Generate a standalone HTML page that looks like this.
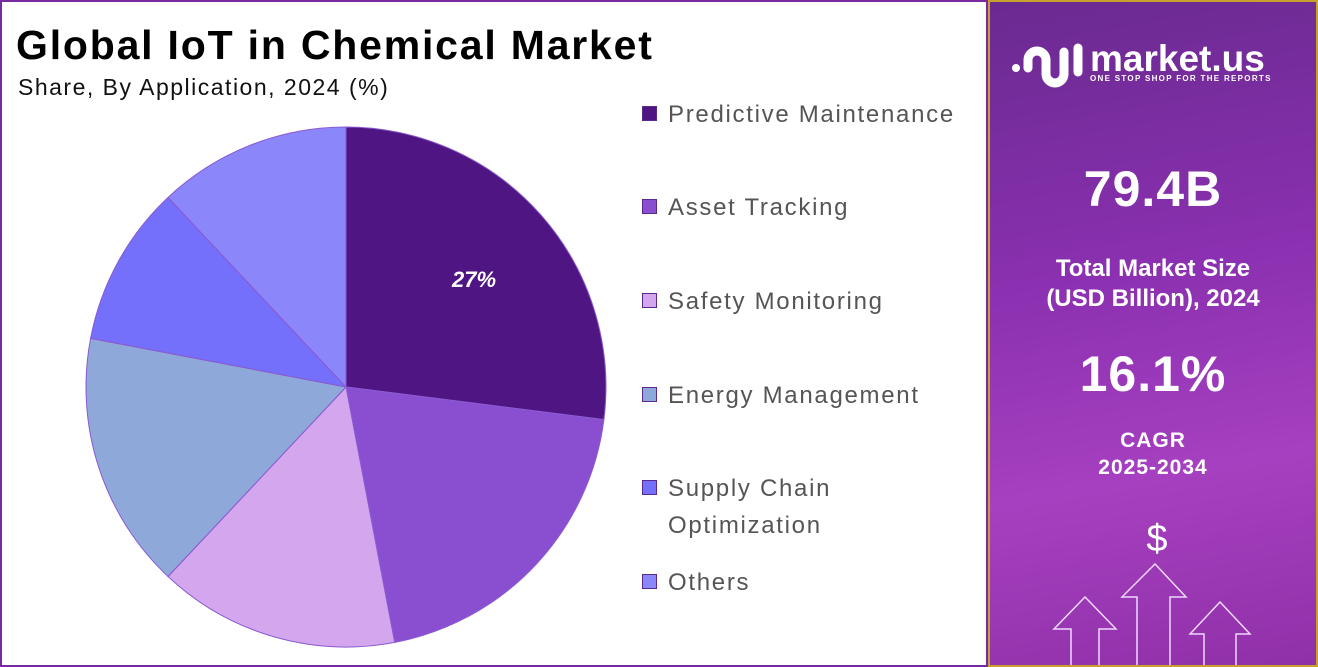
<!DOCTYPE html>
<html><head><meta charset="utf-8"><style>
body{margin:0;width:1318px;height:667px;overflow:hidden;font-family:"Liberation Sans",sans-serif;background:#fff;position:relative}
#left{position:absolute;left:0;top:0;width:984px;height:663px;border:2px solid #7a2aa0;background:#fff}
h1{position:absolute;left:14px;top:20px;margin:0;font-size:41px;font-weight:bold;letter-spacing:1.8px;color:#000}
.sub{position:absolute;left:16px;top:72px;font-size:23px;color:#111;letter-spacing:1.5px}
.leg{position:absolute;left:640px;font-size:24px;color:#555;line-height:37px;letter-spacing:1.7px}
.leg i{position:absolute;left:0;top:10px;width:15px;height:15px;box-sizing:border-box;border:1px solid #5a2a8a}
.leg span{margin-left:26px;display:block}
#right{position:absolute;left:988px;top:0;width:326px;height:663px;border:2px solid #c8a030;background:linear-gradient(170deg,#6a2a90 0%,#8a30b0 40%,#a640c0 70%,#9030a8 100%);color:#fff;text-align:center;overflow:hidden}
.b{font-weight:bold;position:absolute;left:0;width:100%}
</style></head><body>
<div id="left">
<h1>Global IoT in Chemical Market</h1>
<div class="sub">Share, By Application, 2024 (%)</div>
<svg width="984" height="663" style="position:absolute;left:-2px;top:-2px">
<g stroke="#8a5ad0" stroke-width="1">
<path d="M346,387 L346,127 A260,260 0 0 1 603.9,419.6 Z" fill="#4f1683"/>
<path d="M346,387 L603.9,419.6 A260,260 0 0 1 394.7,642.4 Z" fill="#8a4fd0"/>
<path d="M346,387 L394.7,642.4 A260,260 0 0 1 168,576.5 Z" fill="#d4a6ed"/>
<path d="M346,387 L168,576.5 A260,260 0 0 1 90.6,338.3 Z" fill="#8fa8da"/>
<path d="M346,387 L90.6,338.3 A260,260 0 0 1 168,197.5 Z" fill="#7470fb"/>
<path d="M346,387 L168,197.5 A260,260 0 0 1 346,127 Z" fill="#8b87fb"/>
</g>
<text x="474" y="287" fill="#fff" font-size="22" font-weight="bold" font-style="italic" text-anchor="middle" font-family="Liberation Sans">27%</text>
</svg>
<div class="leg" style="top:94px"><i style="background:#4f1683"></i><span>Predictive Maintenance</span></div>
<div class="leg" style="top:187px"><i style="background:#8a4fd0"></i><span>Asset Tracking</span></div>
<div class="leg" style="top:281px"><i style="background:#d4a6ed"></i><span>Safety Monitoring</span></div>
<div class="leg" style="top:375px"><i style="background:#8fa8da"></i><span>Energy Management</span></div>
<div class="leg" style="top:468px"><i style="background:#7470fb"></i><span>Supply Chain<br>Optimization</span></div>
<div class="leg" style="top:562px"><i style="background:#8b87fb"></i><span>Others</span></div>
</div>
<div id="right">
<svg width="80" height="60" style="position:absolute;left:18px;top:36px" fill="none" stroke="#fff" stroke-width="9" stroke-linecap="round">
<circle cx="8" cy="30" r="4" fill="#fff" stroke="none"/>
<path d="M20,30 V22 A9,9 0 0 1 38,22 V36 A9,9 0 0 0 56,36 V14"/>
<path d="M70,10 V34"/>
</svg>
<div class="b" style="top:36px;left:100px;width:200px;font-size:37px;text-align:left">market.us</div>
<div class="b" style="top:72px;left:100px;width:200px;font-size:8px;letter-spacing:1.3px;text-align:left">ONE STOP SHOP FOR THE REPORTS</div>
<div class="b" style="top:158px;font-size:50px;letter-spacing:1px">79.4B</div>
<div class="b" style="top:252px;font-size:24px;line-height:30px">Total Market Size<br>(USD Billion), 2024</div>
<div class="b" style="top:343px;font-size:50px;letter-spacing:1px">16.1%</div>
<div class="b" style="top:425px;font-size:21px;line-height:27px;letter-spacing:1px">CAGR<br>2025-2034</div>
<div class="b" style="top:516px;left:0;font-size:38px;font-weight:normal;padding-left:4px">$</div>
<svg width="326" height="663" style="position:absolute;left:0;top:0" fill="none" stroke="#f0d8ff" stroke-width="1.5">
<path d="M81,663 V627 H64 L95,595 L126,627 H109 V663"/>
<path d="M147,663 V595 H132 L165,562 L196,595 H180 V663"/>
<path d="M214,663 V632 H200 L230,600 L260,632 H246 V663"/>
</svg>
</div>
</body></html>
